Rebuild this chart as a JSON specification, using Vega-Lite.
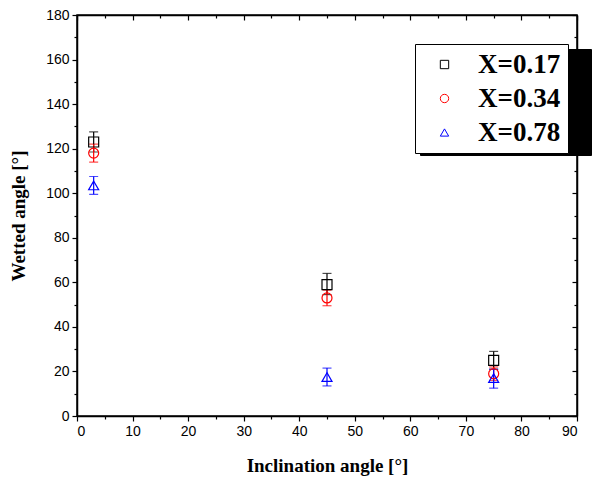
{
  "$schema": "https://vega.github.io/schema/vega-lite/v6.json",
  "width": 500,
  "height": 401,
  "autosize": {"type": "none"},
  "padding": {"left": 77, "top": 15, "right": 15, "bottom": 63},
  "background": "white",
  "config": {
    "view": {"stroke": "black", "strokeWidth": 1.5},
    "axis": {"labelFont": "Liberation Sans", "labelFontSize": 14, "labelColor": "black", "domainColor": "black", "tickColor": "black", "domainWidth": 1.5, "tickWidth": 1.2, "grid": false, "titleFont": "Liberation Serif", "titleFontSize": 19, "titleFontWeight": "bold", "titleColor": "black"},
    "legend": {"orient": "none", "legendX": 338, "legendY": 29, "title": null, "strokeColor": "black", "fillColor": "white", "padding": 7, "labelFont": "Liberation Serif", "labelFontSize": 27, "labelFontWeight": "bold", "labelColor": "black", "symbolSize": 70, "symbolStrokeWidth": 1, "rowPadding": 6, "labelOffset": 20, "symbolOffset": 9}
  },
  "data": {"values": [
    {"x": 3, "y": 123, "lo": 118.5, "hi": 127.5, "s": "X=0.17"},
    {"x": 45, "y": 59, "lo": 54.5, "hi": 64, "s": "X=0.17"},
    {"x": 75, "y": 25, "lo": 21, "hi": 29, "s": "X=0.17"},
    {"x": 3, "y": 118, "lo": 114, "hi": 122, "s": "X=0.34"},
    {"x": 45, "y": 53, "lo": 49.5, "hi": 56.5, "s": "X=0.34"},
    {"x": 75, "y": 19, "lo": 16, "hi": 22, "s": "X=0.34"},
    {"x": 3, "y": 103.5, "lo": 99.5, "hi": 107.5, "s": "X=0.78"},
    {"x": 45, "y": 17.5, "lo": 13.5, "hi": 21.5, "s": "X=0.78"},
    {"x": 75, "y": 17, "lo": 12.5, "hi": 21, "s": "X=0.78"}
  ]},
  "resolve": {"axis": {"x": "independent", "y": "independent"}, "scale": {"color": "independent", "shape": "independent"}, "legend": {"color": "independent", "shape": "independent"}},
  "layer": [
    {
      "mark": {"type": "errorbar", "ticks": {"size": 9, "thickness": 1.2}, "thickness": 1.2},
      "encoding": {
        "x": {"field": "x", "type": "quantitative", "scale": {"domain": [0, 90], "nice": false},
          "axis": {"orient": "bottom", "values": [0,5,10,15,20,25,30,35,40,45,50,55,60,65,70,75,80,85,90], "labelExpr": "datum.value % 10 ? '' : datum.label", "tickSize": {"condition": {"test": "datum.value % 10 !== 0", "value": 3}, "value": 5}, "labelPadding": 3, "title": "Inclination angle [°]", "titlePadding": 18}},
        "y": {"field": "lo", "type": "quantitative", "scale": {"domain": [0, 180], "nice": false},
          "axis": {"orient": "left", "values": [0,10,20,30,40,50,60,70,80,90,100,110,120,130,140,150,160,170,180], "labelExpr": "datum.value % 20 ? '' : datum.label", "tickSize": {"condition": {"test": "datum.value % 20 !== 0", "value": 3}, "value": 5}, "labelPadding": 3, "title": "Wetted angle [°]", "titlePadding": 17}},
        "y2": {"field": "hi"},
        "color": {"field": "s", "type": "nominal", "scale": {"domain": ["X=0.17", "X=0.34", "X=0.78"], "range": ["black", "#ff0000", "#0000ff"]}, "legend": null}
      }
    },
    {
      "mark": {"type": "point", "filled": false, "size": 100, "strokeWidth": 1.2, "opacity": 1},
      "encoding": {
        "x": {"field": "x", "type": "quantitative",
          "axis": {"orient": "top", "values": [0,5,10,15,20,25,30,35,40,45,50,55,60,65,70,75,80,85,90], "labels": false, "title": null, "tickSize": {"condition": {"test": "datum.value % 10 !== 0", "value": -3}, "value": -5}}},
        "y": {"field": "y", "type": "quantitative",
          "axis": {"orient": "right", "values": [0,10,20,30,40,50,60,70,80,90,100,110,120,130,140,150,160,170,180], "labels": false, "title": null, "tickSize": {"condition": {"test": "datum.value % 20 !== 0", "value": -3}, "value": -5}}},
        "color": {"field": "s", "type": "nominal", "scale": {"domain": ["X=0.17", "X=0.34", "X=0.78"], "range": ["black", "#ff0000", "#0000ff"]}, "legend": {"zindex": 2}},
        "shape": {"field": "s", "type": "nominal", "scale": {"domain": ["X=0.17", "X=0.34", "X=0.78"], "range": ["square", "circle", "triangle-up"]}, "legend": {"zindex": 2}}
      }
    },
    {
      "mark": {"type": "point", "filled": true, "size": 10, "opacity": 0},
      "encoding": {
        "x": {"field": "x", "type": "quantitative", "axis": null},
        "y": {"field": "y", "type": "quantitative", "axis": null},
        "fill": {"field": "s", "type": "nominal", "scale": {"range": ["black", "black", "black"]},
          "legend": {"zindex": 1, "legendX": 343, "legendY": 34, "fillColor": "black", "strokeColor": "black", "labelColor": "black", "labelFont": "DejaVu Sans", "labelFontSize": 26, "rowPadding": 7, "labelExpr": "'\u2800\u2800\u2800\u2800\u2800'"}}
      }
    }
  ]
}
